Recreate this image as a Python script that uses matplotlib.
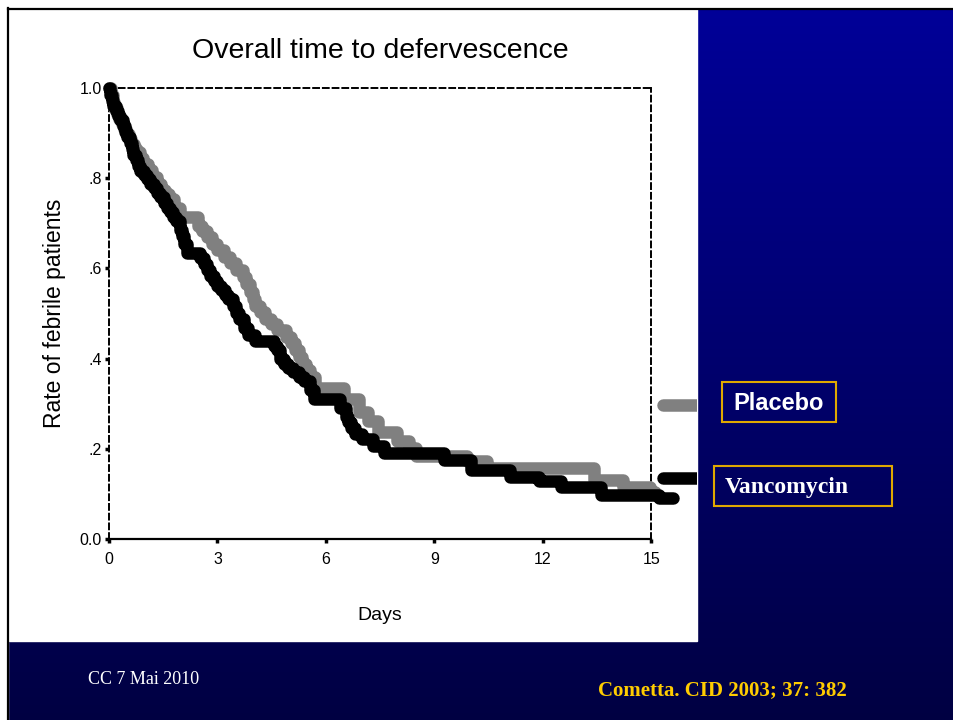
import numpy as np
import matplotlib.pyplot as plt
from matplotlib.patches import Rectangle

# Kaplan-Meier style data (days, fraction still febrile)
vanco_days = [0.00, 0.03, 0.07, 0.11, 0.18, 0.24, 0.30, 0.38, 0.45, 0.50, 0.58, 0.63,
              0.67, 0.75, 0.80, 0.86, 0.96, 1.05, 1.14, 1.25, 1.33, 1.41, 1.52, 1.60,
              1.69, 1.77, 1.85, 1.97, 2.03, 2.08, 2.16, 2.52, 2.62, 2.70, 2.80, 2.90, 3.00,
              3.10, 3.20, 3.30, 3.44, 3.52, 3.60, 3.72, 3.85, 4.05, 4.55, 4.64, 4.74,
              4.85, 4.95, 5.10, 5.25, 5.38, 5.55, 5.66, 6.40, 6.55, 6.62, 6.70, 6.80,
              7.00, 7.30, 7.60, 9.26, 10.0, 11.1, 11.9, 12.5, 13.6, 15.2, 15.6]
vanco_surv = [1.000, 0.985, 0.972, 0.960, 0.948, 0.938, 0.928, 0.915, 0.902, 0.891, 0.877, 0.864,
              0.852, 0.840, 0.828, 0.817, 0.808, 0.798, 0.788, 0.778, 0.768, 0.758, 0.746, 0.735,
              0.724, 0.714, 0.704, 0.685, 0.672, 0.655, 0.635, 0.622, 0.609, 0.596, 0.584, 0.571, 0.562,
              0.552, 0.542, 0.532, 0.517, 0.502, 0.488, 0.468, 0.453, 0.439, 0.429, 0.419, 0.399,
              0.389, 0.380, 0.370, 0.360, 0.350, 0.330, 0.311, 0.291, 0.271, 0.259, 0.247, 0.232,
              0.222, 0.207, 0.191, 0.175, 0.153, 0.137, 0.128, 0.115, 0.098, 0.092, 0.092]

placebo_days = [0.00, 0.05, 0.10, 0.15, 0.22, 0.28, 0.35, 0.42, 0.48, 0.55, 0.62, 0.68,
                0.75, 0.85, 0.95, 1.08, 1.20, 1.32, 1.45, 1.55, 1.65, 1.80, 1.95, 2.45,
                2.58, 2.70, 2.85, 3.00, 3.18, 3.35, 3.52, 3.70, 3.80, 3.90, 3.98, 4.05, 4.18, 4.30,
                4.48, 4.65, 4.90, 5.02, 5.15, 5.25, 5.35, 5.45, 5.55, 5.70, 6.50, 6.90,
                7.15, 7.45, 7.95, 8.30, 8.50, 9.90, 10.45, 13.4, 14.2, 14.95, 15.1]
placebo_surv = [1.000, 0.985, 0.970, 0.955, 0.943, 0.932, 0.921, 0.909, 0.898, 0.886, 0.876, 0.866,
                0.857, 0.845, 0.832, 0.818, 0.803, 0.788, 0.773, 0.764, 0.754, 0.734, 0.714, 0.694,
                0.682, 0.670, 0.655, 0.640, 0.626, 0.611, 0.596, 0.581, 0.566, 0.547, 0.532, 0.517, 0.503, 0.488,
                0.476, 0.463, 0.448, 0.434, 0.419, 0.404, 0.389, 0.375, 0.360, 0.335, 0.311, 0.281,
                0.262, 0.237, 0.217, 0.202, 0.183, 0.173, 0.157, 0.131, 0.115, 0.104, 0.104]

x_ticks = [0, 3, 6, 9, 12, 15]
y_ticks = [0.0, 0.2, 0.4, 0.6, 0.8, 1.0]
y_tick_labels = ['0.0', '.2', '.4', '.6', '.8', '1.0']

W, H = 954, 720
fig = plt.figure(figsize=(W / 100, H / 100), dpi=100)

# slide background in pixel coordinates
bg = fig.add_axes([0, 0, 1, 1])
bg.set_xlim(0, W)
bg.set_ylim(H, 0)
bg.axis('off')
grad = np.linspace(0, 1, 256).reshape(-1, 1)
top_col = np.array([0.0, 0.0, 0.60])
bot_col = np.array([0.0, 0.0, 0.26])
img = top_col[None, None, :] * (1 - grad[:, :, None]) + bot_col[None, None, :] * grad[:, :, None]
bg.imshow(img, extent=[0, W, H, 0], aspect='auto', zorder=0)
bg.add_patch(Rectangle((0, 0), W, 8, color='white', zorder=1))
bg.add_patch(Rectangle((0, 0), 8, H, color='white', zorder=1))
bg.plot([8, W], [8.5, 8.5], color='black', lw=1.6, zorder=2)
bg.plot([8.5, 8.5], [8, H], color='black', lw=1.6, zorder=2)
panel = Rectangle((9, 9), 688, 632, color='white', zorder=1)
bg.add_patch(panel)

# legend markers, cut off where the blue starts
for yy, col in [(405, '#808080'), (478, 'black')]:
    ln, = bg.plot([663, 700], [yy, yy], color=col, lw=9, solid_capstyle='round', zorder=3)
    ln.set_clip_path(panel)

gold = '#E0A800'
bg.add_patch(Rectangle((722, 382), 114, 40, fill=False, ec=gold, lw=1.5, zorder=3))
bg.text(779, 403, 'Placebo', color='white', fontsize=17, fontweight='bold',
        family='Liberation Sans', ha='center', va='center', zorder=4)
bg.add_patch(Rectangle((714, 466), 178, 40, fill=False, ec=gold, lw=1.5, zorder=3))
bg.text(787, 487, 'Vancomycin', color='white', fontsize=17, fontweight='bold',
        family='Liberation Serif', ha='center', va='center', zorder=4)

bg.text(88, 680, 'CC 7 Mai 2010', color='white', fontsize=13,
        family='Liberation Serif', ha='left', va='center')
bg.text(722, 690, 'Cometta. CID 2003; 37: 382', color='#FFCC00', fontsize=15,
        fontweight='bold', family='Liberation Serif', ha='center', va='center')

bg.text(380, 51, 'Overall time to defervescence', fontsize=20.5,
        family='Liberation Sans', ha='center', va='center')
bg.text(380, 615, 'Days', fontsize=14, family='Liberation Sans', ha='center', va='center')
bg.text(55, 313, 'Rate of febrile patients', fontsize=16.5, family='Liberation Sans',
        rotation=90, ha='center', va='center')

# plot area
ax = fig.add_axes([109 / W, 1 - 539 / H, 542.5 / W, 451 / H])
ax.patch.set_alpha(0)
ax.plot(placebo_days, placebo_surv, drawstyle='steps-post', color='#808080', lw=9,
        solid_joinstyle='round', solid_capstyle='round', clip_on=False, zorder=3)
ax.plot(vanco_days, vanco_surv, drawstyle='steps-post', color='black', lw=9,
        solid_joinstyle='round', solid_capstyle='round', clip_on=False, zorder=4)

ax.set_xlim(0, 15)
ax.set_ylim(0, 1)
for side in ['top', 'right', 'left']:
    ax.spines[side].set_linestyle((0, (3, 2)))
    ax.spines[side].set_linewidth(1.4)
ax.spines['bottom'].set_linewidth(1.6)

ax.set_xticks(x_ticks)
ax.set_xticklabels([str(t) for t in x_ticks])
ax.set_yticks(y_ticks)
ax.set_yticklabels(y_tick_labels)
ax.tick_params(length=3, width=2.5, labelsize=11.5)
ax.tick_params(axis='y', pad=2)
ax.tick_params(axis='x', pad=6)
for lab in ax.get_xticklabels() + ax.get_yticklabels():
    lab.set_family('Liberation Sans')

fig.savefig('out.png', dpi=100)
